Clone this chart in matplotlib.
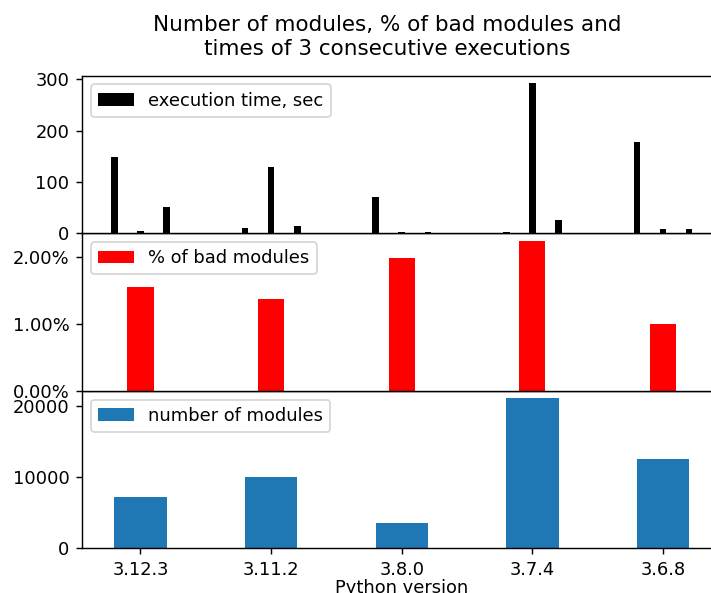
import matplotlib
matplotlib.use("Agg")
import matplotlib.pyplot as plt
import numpy as np
from matplotlib.ticker import PercentFormatter, MultipleLocator

versions = ["3.12.3", "3.11.2", "3.8.0", "3.7.4", "3.6.8"]
exec_time_run1 = [149, 10, 70, 3, 177]
exec_time_run2 = [5, 130, 3, 293, 8]
exec_time_run3 = [50, 13, 3, 25, 8]
bad_modules_pct = [1.55, 1.37, 1.98, 2.24, 1.00]
num_modules = [7150, 10040, 3590, 21040, 12570]

x = np.arange(len(versions))

DPI = 129
fig = plt.figure(figsize=(711 / DPI, 593 / DPI), dpi=DPI)
left, width = 82 / 711, (721.5 - 82) / 711
h = 157.6 / 593
b3 = (593 - 548.3) / 593
ax3 = fig.add_axes([left, b3, width, h])
ax2 = fig.add_axes([left, b3 + h, width, h], sharex=ax3)
ax1 = fig.add_axes([left, b3 + 2 * h, width, h], sharex=ax3)

w = 0.05
ax1.bar(x - 0.2, exec_time_run1, w, color="black", label="execution time, sec")
ax1.bar(x, exec_time_run2, w, color="black")
ax1.bar(x + 0.2, exec_time_run3, w, color="black")
ax1.yaxis.set_major_locator(MultipleLocator(100))
ax1.legend(loc="upper left")
ax1.tick_params(labelbottom=False, bottom=False)

ax2.bar(x, bad_modules_pct, 0.2, color="red", label="% of bad modules")
ax2.yaxis.set_major_locator(MultipleLocator(1))
ax2.yaxis.set_major_formatter(PercentFormatter(xmax=100, decimals=2))
ax2.legend(loc="upper left")
ax2.tick_params(labelbottom=False, bottom=False)

ax3.bar(x, num_modules, 0.4, color="#1f77b4", label="number of modules")
ax3.yaxis.set_major_locator(MultipleLocator(10000))
ax3.set_xticks(x)
ax3.set_xticklabels(versions)
ax3.set_xlabel("Python version", labelpad=0)
ax3.legend(loc="upper left")

fig.text(387 / 711, 1 - 37 / 593,
         "Number of modules, % of bad modules and\ntimes of 3 consecutive executions",
         ha="center", va="center", fontsize=12)

fig.savefig("out.png", dpi=DPI)
